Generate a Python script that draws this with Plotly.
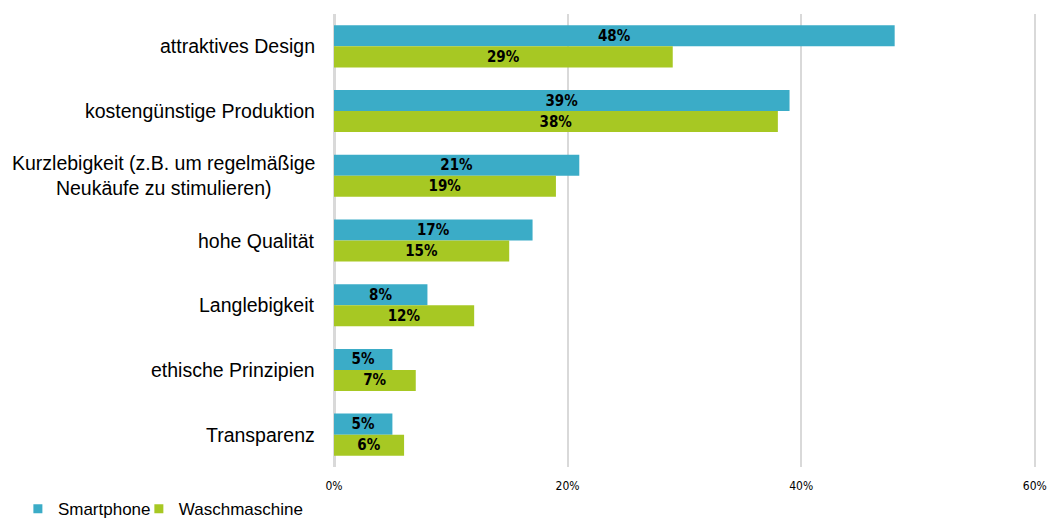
import plotly.graph_objects as go

categories = [
    "attraktives Design",
    "kostengünstige Produktion",
    "Kurzlebigkeit (z.B. um regelmäßige<br>Neukäufe zu stimulieren)",
    "hohe Qualität",
    "Langlebigkeit",
    "ethische Prinzipien",
    "Transparenz",
]
smartphone = [48, 39, 21, 17, 8, 5, 5]
waschmaschine = [29, 38, 19, 15, 12, 7, 6]
x_ticks = [0, 20, 40, 60]
x_tick_labels = ["0%", "20%", "40%", "60%"]

BLUE = "#3BACC7"
GREEN = "#A7C823"
NARROW = "Liberation Sans Narrow, DejaVu Sans Condensed, Liberation Sans"
label_font = dict(family=NARROW, size=15, color="black")

series = [
    ("Smartphone", smartphone, BLUE, "legend"),
    ("Waschmaschine", waschmaschine, GREEN, "legend2"),
]

fig = go.Figure()
for name, vals, col, leg in series:
    fig.add_trace(go.Bar(
        name=name, y=categories, x=vals, orientation="h",
        marker=dict(color=col, line=dict(width=0)),
        text=[f"<b>{v}%</b>" for v in vals],
        textposition="inside", insidetextanchor="middle",
        textfont=label_font, constraintext="none",
        showlegend=False,
    ))
    # square legend keys
    fig.add_trace(go.Scatter(
        name=name, x=[None], y=[None], mode="markers",
        marker=dict(symbol="square", size=9, color=col),
        showlegend=True, legend=leg,
    ))

# category labels, centred line by line, right-aligned next to the axis
for cat in categories:
    fig.add_annotation(
        x=0, xref="paper", xanchor="right", xshift=-17,
        y=cat, yref="y", yanchor="middle",
        text=cat, showarrow=False, align="center",
        font=dict(size=19.5, family="Liberation Sans, Arial", color="black"),
    )

legend_style = dict(orientation="h", xref="container", yref="container",
                    xanchor="left", y=0.017, yanchor="middle",
                    font=dict(size=17, family="Liberation Sans, Arial"),
                    itemwidth=30, bgcolor="rgba(0,0,0,0)")

fig.update_layout(
    width=1052, height=518,
    margin=dict(l=334, r=16, t=14, b=51, autoexpand=False),
    paper_bgcolor="white", plot_bgcolor="white",
    barmode="group", bargap=0.35, bargroupgap=0,
    font=dict(family="Liberation Sans, Arial", color="black"),
    showlegend=True,
    legend=dict(x=0.017, **legend_style),
    legend2=dict(x=0.132, **legend_style),
)
fig.update_xaxes(
    range=[0, 60.1], tickvals=x_ticks, ticktext=x_tick_labels,
    showgrid=True, gridcolor="#D9D9D9", gridwidth=2,
    zeroline=True, zerolinecolor="#D9D9D9", zerolinewidth=3, showline=False,
    tickfont=dict(family=NARROW, size=12, color="black"),
    ticks="", ticklabelstandoff=10, automargin=False,
)
fig.update_yaxes(
    autorange="reversed", showgrid=False, zeroline=False, showline=False,
    showticklabels=False, ticks="", automargin=False,
)

fig.write_html("out.html")
